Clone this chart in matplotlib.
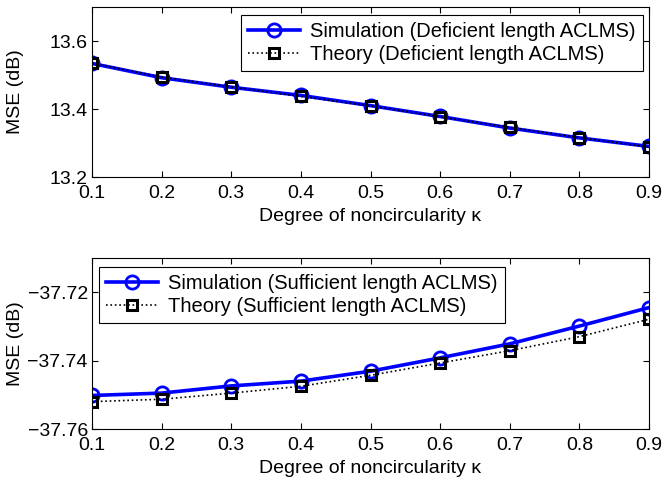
import numpy as np
import matplotlib.pyplot as plt

plt.rcParams['font.family'] = ['Liberation Sans', 'DejaVu Sans']

kappa = [0.1, 0.2, 0.3, 0.4, 0.5, 0.6, 0.7, 0.8, 0.9]
kappa_labels = ['0.1', '0.2', '0.3', '0.4', '0.5', '0.6', '0.7', '0.8', '0.9']

# deficient length ACLMS
sim_def = [13.534, 13.492, 13.464, 13.440, 13.410, 13.378, 13.344, 13.315, 13.290]
th_def = [13.535, 13.494, 13.465, 13.437, 13.409, 13.377, 13.346, 13.316, 13.288]

# sufficient length ACLMS
sim_suf = [-37.7502, -37.7495, -37.7474, -37.7460, -37.7431, -37.7392, -37.7351, -37.7299, -37.7245]
th_suf = [-37.7520, -37.7513, -37.7495, -37.7475, -37.7443, -37.7407, -37.7371, -37.7330, -37.7279]

W, H = 667, 483
fig = plt.figure(figsize=(W / 100, H / 100), dpi=100)
ax1 = fig.add_axes([92 / W, 1 - 177 / H, 557 / W, 170 / H])
ax2 = fig.add_axes([92 / W, 1 - 429 / H, 557 / W, 171 / H])

FS = 14


def draw(ax, sim, th, name, loc, anchor, ylim, yticks, ylabels):
    ax.plot(kappa, sim, '-o', color='#0000ff', lw=2.6, ms=9.5, mfc='none', mew=2,
            label='Simulation (%s length ACLMS)' % name)
    ax.plot(kappa, th, ':s', color='black', lw=1.2, ms=7.5, mfc='none', mew=2.2,
            label='Theory (%s length ACLMS)' % name)
    ax.set_xlim(0.1, 0.9)
    ax.set_ylim(*ylim)
    ax.set_xticks(kappa)
    ax.set_xticklabels(kappa_labels)
    ax.set_yticks(yticks)
    ax.set_yticklabels(ylabels)
    ax.tick_params(direction='in', top=True, right=True, labelsize=FS,
                   length=4, width=0.8)
    ax.tick_params(axis='x', pad=6)
    ax.tick_params(axis='y', pad=3)
    for s in ax.spines.values():
        s.set_linewidth(0.8)
    ax.set_xlabel('Degree of noncircularity κ', fontsize=FS, labelpad=4)
    ax.set_ylabel('MSE (dB)', fontsize=FS)
    ax.yaxis.set_label_coords(-0.122, 0.5)
    leg = ax.legend(loc=loc, bbox_to_anchor=anchor, bbox_transform=fig.transFigure,
                    fontsize=14.5, fancybox=False, framealpha=1,
                    edgecolor='black', handlelength=2.6, handletextpad=0.5,
                    borderpad=0.35, labelspacing=0.2, borderaxespad=0)
    leg.get_frame().set_linewidth(0.8)


draw(ax1, sim_def, th_def, 'Deficient', 'upper right', (643 / W, 1 - 15 / H),
     (13.2, 13.7), [13.2, 13.4, 13.6], ['13.2', '13.4', '13.6'])
draw(ax2, sim_suf, th_suf, 'Sufficient', 'upper left', (99 / W, 1 - 267 / H),
     (-37.76, -37.71), [-37.76, -37.74, -37.72],
     ['\u221237.76', '\u221237.74', '\u221237.72'])

fig.savefig('out.png', dpi=100)
